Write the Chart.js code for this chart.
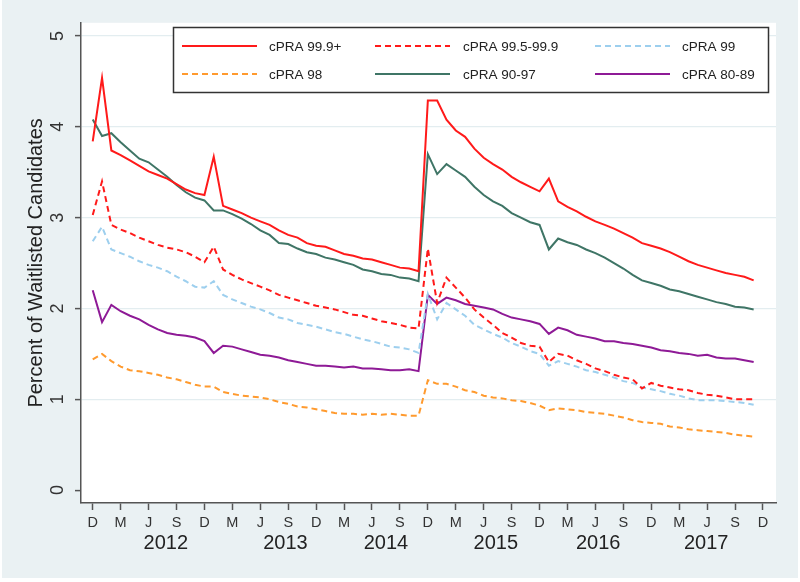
<!DOCTYPE html>
<html><head><meta charset="utf-8">
<script src="https://cdn.jsdelivr.net/npm/chart.js@4"></script>
<style>html,body{margin:0;padding:0;background:#fff;}canvas{display:block}</style>
</head><body>
<canvas id="c" width="800" height="582"></canvas>
<script>
// Months: Dec 2011 .. Nov 2017 (72 monthly points)
const monthNames = ['Dec','Jan','Feb','Mar','Apr','May','Jun','Jul','Aug','Sep','Oct','Nov'];
const months = [];
for (let i = 0; i < 72; i++) months.push(monthNames[i % 12] + ' ' + (2011 + Math.floor((i + 11) / 12)));

const seriesNames = ['cPRA 99.9+', 'cPRA 99.5-99.9', 'cPRA 99', 'cPRA 98', 'cPRA 90-97', 'cPRA 80-89'];

const cpra999 = [3.84,4.54,3.74,3.69,3.63,3.57,3.51,3.47,3.43,3.37,3.31,3.27,3.25,3.67,3.13,3.09,3.05,3.00,2.96,2.92,2.86,2.81,2.78,2.72,2.69,2.68,2.64,2.60,2.58,2.55,2.54,2.51,2.48,2.45,2.44,2.41,
                 4.29,4.29,4.08,3.96,3.89,3.76,3.66,3.59,3.53,3.45,3.39,3.34,3.29,3.43,3.18,3.12,3.07,3.01,2.96,2.92,2.88,2.83,2.78,2.72,2.69,2.66,2.62,2.57,2.52,2.48,2.45,2.42,2.39,2.37,2.35,2.31];
const cpra995 = [3.03,3.40,2.92,2.87,2.83,2.78,2.74,2.70,2.67,2.65,2.62,2.57,2.51,2.68,2.43,2.37,2.32,2.28,2.24,2.20,2.15,2.12,2.09,2.06,2.03,2.01,1.99,1.96,1.93,1.92,1.89,1.86,1.84,1.82,1.79,1.78,
                 2.66,2.06,2.34,2.23,2.12,1.99,1.90,1.82,1.73,1.68,1.62,1.59,1.58,1.41,1.50,1.48,1.43,1.39,1.34,1.31,1.27,1.24,1.22,1.12,1.18,1.15,1.13,1.11,1.10,1.07,1.05,1.04,1.02,1.00,1.00,1.00];
const cpra99 =  [2.74,2.90,2.65,2.61,2.57,2.52,2.48,2.45,2.41,2.35,2.30,2.24,2.23,2.30,2.15,2.10,2.06,2.02,1.99,1.95,1.90,1.88,1.84,1.82,1.80,1.77,1.74,1.72,1.69,1.66,1.64,1.61,1.58,1.57,1.55,1.51,
                 2.16,1.88,2.06,1.99,1.92,1.82,1.77,1.72,1.68,1.62,1.58,1.53,1.50,1.37,1.42,1.39,1.36,1.32,1.30,1.27,1.24,1.20,1.18,1.13,1.11,1.09,1.06,1.04,1.01,0.99,0.99,0.99,0.98,0.97,0.96,0.94];
const cpra98 =  [1.44,1.50,1.42,1.36,1.32,1.31,1.29,1.27,1.24,1.22,1.19,1.16,1.14,1.14,1.08,1.06,1.04,1.03,1.02,1.00,0.97,0.95,0.92,0.91,0.89,0.87,0.85,0.84,0.84,0.83,0.84,0.83,0.84,0.83,0.82,0.82,
                 1.21,1.17,1.17,1.14,1.10,1.08,1.04,1.02,1.01,0.99,0.98,0.96,0.93,0.88,0.90,0.89,0.88,0.86,0.85,0.84,0.82,0.80,0.77,0.75,0.74,0.73,0.70,0.69,0.67,0.66,0.65,0.64,0.63,0.61,0.60,0.59];
const cpra9097 = [4.08,3.90,3.93,3.83,3.74,3.65,3.61,3.53,3.45,3.36,3.28,3.22,3.19,3.08,3.08,3.04,2.99,2.93,2.86,2.81,2.72,2.71,2.66,2.62,2.60,2.56,2.54,2.51,2.48,2.43,2.41,2.38,2.37,2.34,2.33,2.30,
                 3.70,3.48,3.59,3.52,3.45,3.34,3.25,3.18,3.13,3.05,3.00,2.95,2.92,2.65,2.77,2.73,2.70,2.65,2.61,2.56,2.50,2.44,2.37,2.31,2.28,2.25,2.21,2.19,2.16,2.13,2.10,2.07,2.05,2.02,2.01,1.99];
const cpra8089 = [2.20,1.85,2.04,1.97,1.92,1.88,1.82,1.77,1.73,1.71,1.70,1.68,1.64,1.51,1.59,1.58,1.55,1.52,1.49,1.48,1.46,1.43,1.41,1.39,1.37,1.37,1.36,1.35,1.36,1.34,1.34,1.33,1.32,1.32,1.33,1.31,
                 2.15,2.05,2.12,2.09,2.05,2.03,2.01,1.99,1.94,1.90,1.88,1.86,1.83,1.72,1.79,1.76,1.71,1.69,1.67,1.64,1.64,1.62,1.61,1.59,1.57,1.54,1.53,1.51,1.50,1.48,1.49,1.46,1.45,1.45,1.43,1.41];

const tickLabels = ['D','M','J','S'];
const yearLabels = ['2012','2013','2014','2015','2016','2017'];
const yTicks = [0,1,2,3,4,5];

const allSeries = [cpra999, cpra995, cpra99, cpra98, cpra9097, cpra8089];
const styles = [
  {c:'#ff1a1a', d:[]},
  {c:'#ff1a1a', d:[6,4]},
  {c:'#9dcfee', d:[6,4]},
  {c:'#ff9a2e', d:[6,4]},
  {c:'#3f7566', d:[]},
  {c:'#8e1a96', d:[]}
];

const datasets = allSeries.map((arr, k) => ({
  label: seriesNames[k],
  data: arr.map((v, i) => ({x: i, y: v})),
  borderColor: styles[k].c,
  backgroundColor: styles[k].c,
  borderDash: styles[k].d,
  borderWidth: 2,
  pointRadius: 0,
  tension: 0,
  fill: false
}));

const bgPlugin = {
  id: 'bg',
  beforeDraw(chart) {
    const ctx = chart.ctx, a = chart.chartArea;
    ctx.save();
    ctx.fillStyle = '#ffffff';
    ctx.fillRect(0, 0, chart.width, chart.height);
    ctx.fillStyle = '#eaf1f3';
    ctx.fillRect(2, 0, 796, 578);
    ctx.fillStyle = '#ffffff';
    ctx.fillRect(a.left, a.top, a.right - a.left, a.bottom - a.top);
    ctx.restore();
  }
};

const legendPlugin = {
  id: 'boxLegend',
  afterDraw(chart) {
    const ctx = chart.ctx;
    ctx.save();
    ctx.fillStyle = '#ffffff';
    ctx.fillRect(173.5, 27.5, 595, 65);
    ctx.strokeStyle = '#333333';
    ctx.lineWidth = 1.5;
    ctx.setLineDash([]);
    ctx.strokeRect(173.5, 27.5, 595, 65);
    const colSample = [182, 375, 595];
    const colText = [269, 463, 682];
    const rowY = [46, 74];
    ctx.font = '13.5px "Liberation Sans", Arial, sans-serif';
    ctx.textBaseline = 'middle';
    ctx.textAlign = 'left';
    chart.data.datasets.forEach((ds, k) => {
      const r = Math.floor(k / 3), c = k % 3;
      const y = rowY[r];
      ctx.strokeStyle = ds.borderColor;
      ctx.lineWidth = 2;
      ctx.setLineDash(ds.borderDash || []);
      ctx.beginPath();
      ctx.moveTo(colSample[c], y);
      ctx.lineTo(colSample[c] + 75, y);
      ctx.stroke();
      ctx.setLineDash([]);
      ctx.fillStyle = '#222222';
      ctx.fillText(ds.label, colText[c], y + 1);
    });
    ctx.restore();
  }
};

const FONT = '"Liberation Sans", Arial, sans-serif';

new Chart(document.getElementById('c'), {
  type: 'line',
  data: { datasets },
  options: {
    responsive: false,
    animation: false,
    devicePixelRatio: 1,
    layout: { padding: { left: 0, right: 24, top: 20, bottom: 0 } },
    plugins: { legend: { display: false }, tooltip: { enabled: false } },
    scales: {
      x: {
        type: 'linear', position: 'bottom', weight: 0,
        min: -1.26, max: 73.4,
        afterBuildTicks: s => { s.ticks = []; for (let v = 0; v <= 72; v += 3) s.ticks.push({value: v}); },
        afterFit: s => { s.height = 28; },
        ticks: {
          autoSkip: false, maxRotation: 0, minRotation: 0, padding: 4,
          color: '#333333', font: { family: FONT, size: 14.5 },
          callback: v => tickLabels[Math.round(v / 3) % 4]
        },
        grid: { drawOnChartArea: false, drawTicks: true, tickLength: 7, tickColor: '#555555', tickWidth: 1.5 },
        border: { display: true, color: '#555555', width: 1.5 }
      },
      x2: {
        type: 'linear', position: 'bottom', weight: 1,
        min: -1.26, max: 73.4,
        afterBuildTicks: s => { s.ticks = [7.85, 20.7, 31.5, 43.3, 54.3, 65.9].map(v => ({value: v})); },
        afterFit: s => { s.height = 51; },
        ticks: {
          autoSkip: false, maxRotation: 0, minRotation: 0, padding: 0,
          color: '#222222', font: { family: FONT, size: 20 },
          callback: (v, i) => yearLabels[i]
        },
        grid: { display: false, drawTicks: false },
        border: { display: false }
      },
      y: {
        type: 'linear', position: 'left',
        min: -0.142, max: 5.146,
        afterBuildTicks: s => { s.ticks = yTicks.map(v => ({value: v})); },
        afterFit: s => { s.width = 81; },
        ticks: {
          minRotation: 90, maxRotation: 90, crossAlign: 'center', padding: 12,
          color: '#333333', font: { family: FONT, size: 18 },
          callback: v => String(v)
        },
        grid: {
          color: c => (c.tick && c.tick.value === 0) ? 'rgba(0,0,0,0)' : '#e3edf0',
          lineWidth: 1.2, drawTicks: true, tickLength: 6, tickColor: '#555555', tickWidth: 1.5
        },
        border: { display: true, color: '#555555', width: 1.5 },
        title: {
          display: true, text: 'Percent of Waitlisted Candidates',
          color: '#222222', font: { family: FONT, size: 20 }, padding: { top: 24, bottom: 0 }
        }
      }
    }
  },
  plugins: [bgPlugin, legendPlugin]
});
</script>
</body></html>
